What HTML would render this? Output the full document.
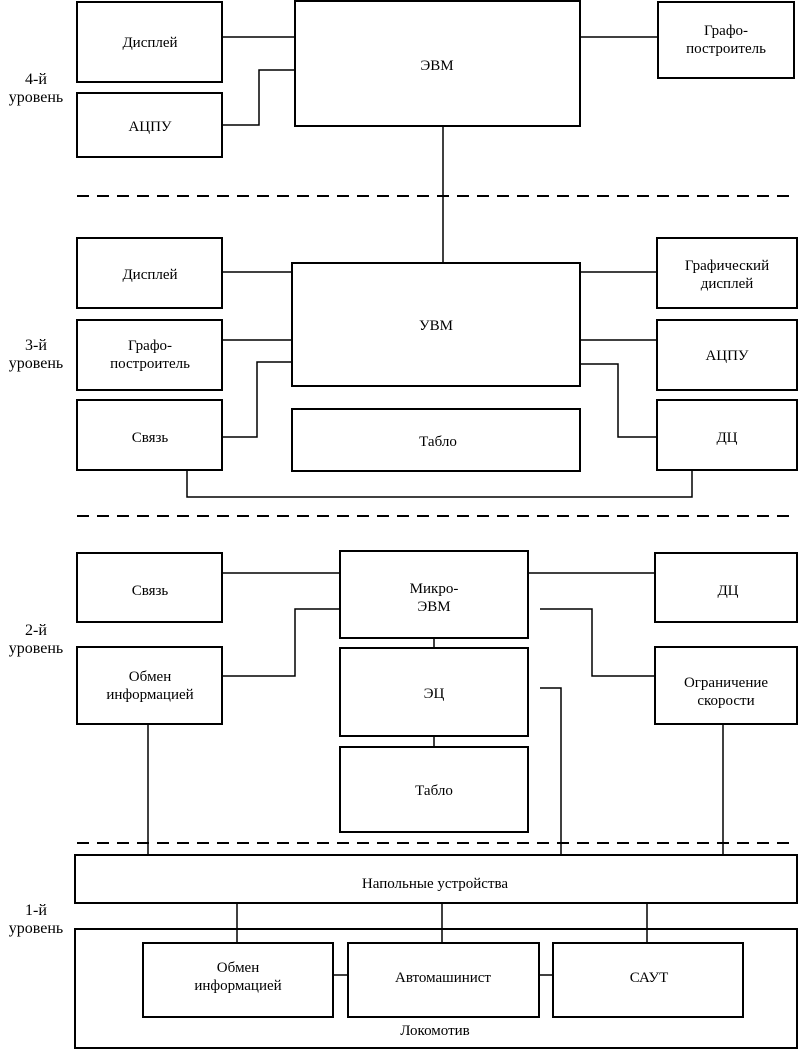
<!DOCTYPE html>
<html><head><meta charset="utf-8"><style>
body{margin:0;background:#fff}
svg{display:block}
text{font-family:"Liberation Serif","Noto Serif CJK SC",serif;font-size:15px;fill:#000;text-anchor:middle}
text.l{font-size:16px}
rect{fill:none;stroke:#000;stroke-width:2}
line,polyline{fill:none;stroke:#000;stroke-width:1.5}
.d{stroke-dasharray:12,8;stroke-width:2}
</style></head><body>
<svg width="802" height="1050" viewBox="0 0 802 1050">
<rect x="77" y="2" width="145" height="80"/><text x="150" y="47">Дисплей</text>
<rect x="77" y="93" width="145" height="64"/><text x="150" y="131">АЦПУ</text>
<rect x="295" y="1" width="285" height="125"/><text x="437" y="70">ЭВМ</text>
<rect x="658" y="2" width="136" height="76"/><text x="726" y="35">Графо-</text><text x="726" y="53">построитель</text>
<line x1="222" y1="37" x2="295" y2="37"/>
<polyline points="222,125 259,125 259,70 295,70"/>
<line x1="580" y1="37" x2="658" y2="37"/>
<text class="l" x="36" y="84">4-й</text><text class="l" x="36" y="102">уровень</text>
<line class="d" x1="77" y1="196" x2="794" y2="196"/>
<line x1="443" y1="126" x2="443" y2="263"/>
<rect x="77" y="238" width="145" height="70"/><text x="150" y="279">Дисплей</text>
<rect x="292" y="263" width="288" height="123"/><text x="436" y="330">УВМ</text>
<rect x="77" y="320" width="145" height="70"/><text x="150" y="350">Графо-</text><text x="150" y="368">построитель</text>
<rect x="77" y="400" width="145" height="70"/><text x="150" y="442">Связь</text>
<rect x="292" y="409" width="288" height="62"/><text x="438" y="446">Табло</text>
<rect x="657" y="238" width="140" height="70"/><text x="727" y="270">Графический</text><text x="727" y="288">дисплей</text>
<rect x="657" y="320" width="140" height="70"/><text x="727" y="360">АЦПУ</text>
<rect x="657" y="400" width="140" height="70"/><text x="727" y="442">ДЦ</text>
<line x1="222" y1="272" x2="292" y2="272"/>
<line x1="222" y1="340" x2="292" y2="340"/>
<polyline points="222,437 257,437 257,362 292,362"/>
<line x1="580" y1="272" x2="657" y2="272"/>
<line x1="580" y1="340" x2="657" y2="340"/>
<polyline points="580,364 618,364 618,437 657,437"/>
<polyline points="187,470 187,497 692,497 692,470"/>
<text class="l" x="36" y="350">3-й</text><text class="l" x="36" y="368">уровень</text>
<line class="d" x1="77" y1="516" x2="794" y2="516"/>
<rect x="77" y="553" width="145" height="69"/><text x="150" y="595">Связь</text>
<rect x="340" y="551" width="188" height="87"/><text x="434" y="593">Микро-</text><text x="434" y="611">ЭВМ</text>
<rect x="655" y="553" width="142" height="69"/><text x="728" y="595">ДЦ</text>
<rect x="77" y="647" width="145" height="77"/><text x="150" y="681">Обмен</text><text x="150" y="699">информацией</text>
<rect x="655" y="647" width="142" height="77"/><text x="726" y="687">Ограничение</text><text x="726" y="705">скорости</text>
<rect x="340" y="648" width="188" height="88"/><text x="434" y="698">ЭЦ</text>
<rect x="340" y="747" width="188" height="85"/><text x="434" y="795">Табло</text>
<line x1="222" y1="573" x2="340" y2="573"/>
<line x1="528" y1="573" x2="655" y2="573"/>
<polyline points="222,676 295,676 295,609 340,609"/>
<polyline points="540,609 592,609 592,676 655,676"/>
<line x1="434" y1="638" x2="434" y2="648"/>
<line x1="434" y1="736" x2="434" y2="747"/>
<polyline points="540,688 561,688 561,855"/>
<line x1="148" y1="724" x2="148" y2="855"/>
<line x1="723" y1="724" x2="723" y2="855"/>
<text class="l" x="36" y="635">2-й</text><text class="l" x="36" y="653">уровень</text>
<line class="d" x1="77" y1="843" x2="797" y2="843"/>
<rect x="75" y="855" width="722" height="48"/><text x="435" y="888">Напольные устройства</text>
<rect x="75" y="929" width="722" height="119"/><text x="435" y="1035">Локомотив</text>
<rect x="143" y="943" width="190" height="74"/><text x="238" y="972">Обмен</text><text x="238" y="990">информацией</text>
<rect x="348" y="943" width="191" height="74"/><text x="443" y="982">Автомашинист</text>
<rect x="553" y="943" width="190" height="74"/><text x="649" y="982">САУТ</text>
<line x1="333" y1="975" x2="348" y2="975"/>
<line x1="539" y1="975" x2="553" y2="975"/>
<line x1="237" y1="903" x2="237" y2="943"/>
<line x1="442" y1="903" x2="442" y2="943"/>
<line x1="647" y1="903" x2="647" y2="943"/>
<text class="l" x="36" y="915">1-й</text><text class="l" x="36" y="933">уровень</text>
</svg>
</body></html>
